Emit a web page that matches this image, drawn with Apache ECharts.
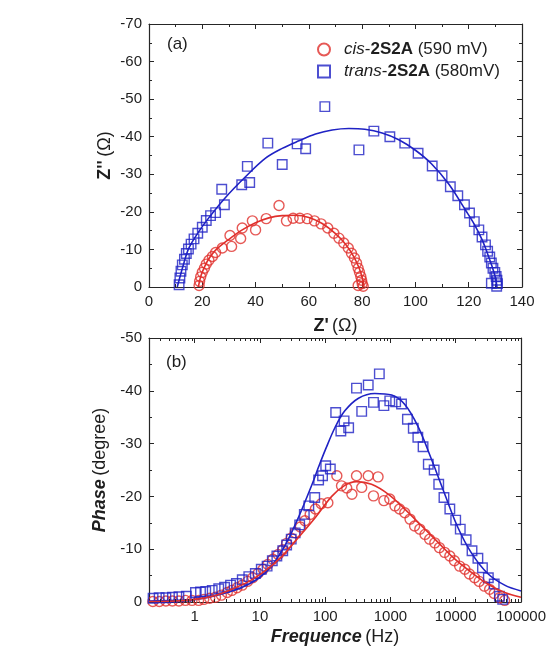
<!DOCTYPE html>
<html>
<head>
<meta charset="utf-8">
<script src="https://cdn.jsdelivr.net/npm/echarts@6/dist/echarts.min.js"></script>
<style>
  html, body { margin: 0; padding: 0; background: #fff; }
  #chart { width: 549px; height: 656px; }
</style>
</head>
<body>
<div id="chart"></div>
<script>
// ---- Nyquist data (Z' in ohm, Z'' in ohm) ----
const cisNyquist = [
  [18.8,-0.4],[19.0,-1.5],[19.4,-2.7],[20.0,-3.9],[20.8,-5.0],[21.5,-6.1],[22.5,-7.1],[23.8,-8.1],
  [25.0,-9.2],[27.5,-10.4],[30.4,-13.7],[31.0,-10.8],[34.4,-12.9],[35.0,-15.7],[38.8,-17.6],[40.0,-15.2],
  [44.0,-18.2],[48.8,-21.7],[51.6,-17.6],[54.1,-18.3],[56.6,-18.3],[59.4,-18.2],[62.1,-17.6],[64.6,-16.8],
  [67.1,-15.7],[69.4,-14.3],[71.3,-13.0],[73.1,-11.7],[74.8,-10.4],[76.0,-9.0],[77.1,-7.7],[77.9,-6.4],
  [78.5,-5.0],[79.0,-3.9],[79.5,-2.8],[79.8,-1.8],[80.0,-0.9],[78.5,-0.4],[80.4,-0.2]
];
const transNyquist = [
  [11.3,-0.6],[11.6,-2.4],[12.0,-4.2],[12.5,-5.9],[13.3,-7.4],[14.0,-8.9],[14.8,-10.1],[15.8,-11.4],
  [16.9,-12.8],[18.3,-14.3],[20.0,-15.9],[21.5,-17.7],[23.1,-19.0],[25.0,-19.8],[28.3,-21.9],[27.3,-26.0],
  [34.8,-27.2],[37.8,-27.8],[36.9,-32.1],[44.6,-38.3],[50.0,-32.6],[55.6,-38.1],[58.8,-36.8],[66.0,-48.0],
  [78.8,-36.5],[84.4,-41.5],[90.4,-40.0],[96.0,-38.3],[101.0,-35.6],[106.3,-32.2],[110.0,-29.6],[113.1,-26.7],
  [115.9,-24.3],[118.4,-21.9],[120.3,-19.7],[122.1,-17.4],[123.8,-15.2],[125.0,-13.3],[126.3,-11.2],[127.1,-9.5],
  [127.9,-8.0],[128.5,-6.4],[129.1,-5.0],[129.8,-3.9],[130.3,-2.8],[130.6,-1.8],[130.8,-0.9],[128.5,-1.0],[130.5,-0.2]
];
// equivalent-circuit fits
const cisNyquistFit = [
  [18.5,0],[19.5,-3.0],[20.5,-4.8],[22,-7.0],[25,-9.8],[30,-12.7],[35,-15.2],[40,-17.1],[45,-18.4],
  [50,-19.0],[55,-19.1],[60,-18.5],[65,-16.9],[70,-14.2],[74,-11.2],[77,-7.9],[79,-4.8],[80.3,-1.8],[80.7,0]
];
const transNyquistFit = [
  [10.6,0],[13.1,-6.4],[15,-10.4],[18.75,-14.8],[22,-18.0],[28.3,-23.5],[36.3,-29.4],[43.75,-34.3],
  [50,-36.9],[56.25,-38.9],[62.5,-40.7],[68.75,-41.8],[75,-42.2],[81,-42.0],[87.5,-41.0],[93.75,-39.2],
  [100,-36.4],[106,-32.8],[112.5,-27.4],[118.75,-20.5],[122,-16.8],[125,-12.6],[127,-9.0],[128.75,-5.5],
  [130,-2.6],[130.6,0]
];

// ---- Bode phase data (frequency in Hz, phase in degree) ----
const cisPhase = [
  [0.229,-0.1],[0.288,-0.1],[0.363,-0.2],[0.457,-0.2],[0.575,-0.2],[0.724,-0.3],[0.912,-0.3],[1.15,-0.3],
  [1.38,-0.5],[1.70,-0.7],[2.09,-0.9],[2.57,-1.3],[3.16,-1.8],[3.72,-2.2],[4.47,-2.7],[5.37,-3.2],
  [6.46,-3.9],[7.76,-4.6],[9.33,-5.4],[11.2,-6.2],[13.2,-7.1],[15.8,-8.1],[19.1,-9.0],[22.4,-9.9],
  [25.7,-11.1],[30.2,-12.1],[34.7,-13.1],[41.7,-14.2],[49.0,-15.4],[58.9,-16.6],[70.8,-17.6],[87.1,-18.6],
  [110,-18.8],[151,-23.9],[178,-22.0],[214,-21.6],[257,-20.4],[302,-23.9],[363,-21.7],[457,-23.9],
  [550,-20.1],[646,-23.7],[794,-19.2],[977,-19.5],[1175,-18.2],[1380,-17.6],[1660,-16.9],[1995,-15.7],
  [2344,-14.4],[2818,-13.8],[3388,-12.8],[3981,-11.9],[4786,-11.2],[5623,-10.3],[6761,-9.4],[8128,-8.7],
  [9550,-7.8],[11482,-6.8],[13804,-6.2],[16218,-5.3],[19498,-4.6],[22909,-3.9],[27542,-3.0],[33113,-2.4],
  [38905,-1.6],[46774,-0.8],[56234,-0.3]
];
const transPhase = [
  [0.231,-0.7],[0.286,-0.8],[0.363,-0.8],[0.457,-0.9],[0.575,-1.0],[0.746,-1.1],[1.03,-1.8],[1.23,-1.9],
  [1.48,-2.0],[1.86,-2.2],[2.34,-2.5],[2.88,-2.8],[3.55,-3.2],[4.37,-3.5],[5.37,-4.2],[6.76,-4.8],
  [8.51,-5.4],[10.5,-6.2],[12.9,-6.8],[15.5,-7.8],[18.2,-8.7],[22.4,-9.7],[25.7,-10.8],[30.2,-11.9],
  [34.7,-13.1],[40.7,-14.6],[47.9,-16.6],[56.2,-18.2],[69.2,-19.8],[79.4,-23.1],[91.2,-23.9],[102,-25.8],
  [120,-25.2],[145,-35.9],[174,-32.4],[195,-34.3],[229,-33.0],[302,-40.5],[363,-36.1],[457,-41.1],
  [550,-37.8],[676,-43.2],[794,-37.2],[977,-38.1],[1202,-37.9],[1479,-37.5],[1820,-34.6],[2239,-32.9],
  [2630,-31.2],[3162,-29.4],[3802,-26.1],[4677,-25.0],[5495,-22.3],[6607,-19.8],[8128,-17.6],[10000,-15.5],
  [11749,-13.8],[14454,-11.8],[17783,-9.7],[21878,-8.3],[25704,-6.5],[31623,-4.6],[38905,-3.4],[46774,-1.1],
  [52481,-0.5]
];
const cisPhaseFit = [
  [0.2,-0.1],[0.5,-0.2],[1,-0.5],[2,-1.2],[3.7,-2.4],[6.8,-3.9],[12,-5.9],[21.9,-8.7],[38.9,-12.2],
  [70.8,-16.0],[126,-20.0],[200,-22.1],[302,-22.8],[513,-22.3],[933,-20.4],[1660,-17.6],[3020,-14.4],
  [5370,-11.3],[9550,-8.2],[17378,-5.6],[30903,-3.4],[56234,-1.8],[100000,-0.9]
];
const transPhaseFit = [
  [0.2,-0.2],[0.5,-0.3],[1.05,-0.5],[1.66,-0.9],[2.95,-1.7],[5.37,-2.8],[9.55,-4.5],[15.5,-7.0],
  [24.5,-10.8],[38.9,-16.0],[63.1,-22.3],[79.4,-25.6],[102,-29.0],[141,-33.0],[200,-36.2],[324,-38.6],
  [575,-39.5],[1047,-39.2],[1660,-37.4],[2630,-33.3],[4266,-27.0],[6761,-20.5],[10715,-14.2],[17378,-9.3],
  [30903,-5.4],[56234,-3.2],[100000,-2.1]
];

// ---- axis tick values ----
const freqDecades = [0.1, 1, 10, 100, 1000, 10000];
const minorMultipliers = [2, 3, 4, 5, 6, 7, 8, 9];
const freqMin = 0.2, freqMax = 100000;
const logMinorTicks = [];
freqDecades.forEach(d => minorMultipliers.forEach(m => {
  const f = d * m;
  if (f > freqMin && f < freqMax) logMinorTicks.push([f, 0]);
}));

const seriesNames = ['cis-2S2A (590 mV)', 'trans-2S2A (580mV)'];

const FONT = '"Liberation Sans", Arial, Helvetica, sans-serif';
const INK = '#1e1e1e';
const FRAME = '#262626';
const RED = '#e0302c';
const BLUE = '#1f22c4';

function frameAxis(extra) {
  return Object.assign({
    axisLine: { show: true, onZero: false, lineStyle: { color: FRAME, width: 1.2 } },
    axisTick: { show: true, inside: true, length: 5, lineStyle: { color: FRAME } },
    minorTick: { show: true, splitNumber: 2, length: 3, lineStyle: { color: FRAME } },
    splitLine: { show: false },
    minorSplitLine: { show: false },
    axisLabel: { color: INK, fontSize: 15, fontFamily: FONT, margin: 7 }
  }, extra);
}
const hiddenLabel = { show: false };

const nameRich = {
  b: { fontWeight: 'bold', fontSize: 18, fontFamily: FONT, color: INK },
  bi: { fontWeight: 'bold', fontStyle: 'italic', fontSize: 18, fontFamily: FONT, color: INK },
  n: { fontSize: 18, fontFamily: FONT, color: INK }
};

const option = {
  animation: false,
  backgroundColor: '#fff',
  grid: [
    { left: 149, top: 24, width: 373, height: 263 },
    { left: 149, top: 338, width: 374, height: 264 }
  ],
  legend: {
    data: seriesNames,
    orient: 'vertical',
    left: 312,
    top: 36,
    itemWidth: 12,
    itemHeight: 12,
    itemGap: 5,
    selectedMode: false,
    formatter: name => name.replace(/^(\w+)-(2S2A)(.*)$/, '{i|$1}-{b|$2}$3'),
    textStyle: {
      fontSize: 17, fontFamily: FONT, color: INK, padding: [0, 0, 0, 9],
      rich: {
        i: { fontStyle: 'italic', fontSize: 17, fontFamily: FONT, color: INK },
        b: { fontWeight: 'bold', fontSize: 17, fontFamily: FONT, color: INK }
      }
    }
  },
  graphic: [
    { type: 'text', left: 167, top: 36, style: { text: '(a)', font: '17px ' + FONT, fill: INK } },
    { type: 'text', left: 166, top: 354, style: { text: '(b)', font: '17px ' + FONT, fill: INK } }
  ],
  xAxis: [
    frameAxis({
      gridIndex: 0, type: 'value', min: 0, max: 140, interval: 20, position: 'bottom',
      name: "{b|Z'} {n|(Ω)}", nameLocation: 'middle', nameGap: 30,
      nameTextStyle: { rich: nameRich }
    }),
    frameAxis({
      gridIndex: 0, type: 'value', min: 0, max: 140, interval: 20, position: 'top',
      axisLabel: hiddenLabel
    }),
    frameAxis({
      gridIndex: 1, type: 'log', logBase: 10, min: freqMin, max: freqMax, position: 'bottom',
      minorTick: { show: false },
      axisLabel: {
        color: INK, fontSize: 15, fontFamily: FONT, margin: 7, showMinLabel: false,
        formatter: v => (v >= 1 ? String(Math.round(v)) : '')
      },
      name: '{bi|Frequence} {n|(Hz)}', nameLocation: 'middle', nameGap: 26,
      nameTextStyle: { rich: nameRich }
    }),
    frameAxis({
      gridIndex: 1, type: 'log', logBase: 10, min: freqMin, max: freqMax, position: 'top',
      minorTick: { show: false }, axisLabel: hiddenLabel
    })
  ],
  yAxis: [
    frameAxis({
      gridIndex: 0, type: 'value', min: -70, max: 0, interval: 10, inverse: true, position: 'left',
      name: "{b|Z''} {n|(Ω)}", nameLocation: 'middle', nameGap: 35, nameRotate: 90,
      nameMoveOverlap: false,
      nameTextStyle: { rich: nameRich }
    }),
    frameAxis({
      gridIndex: 0, type: 'value', min: -70, max: 0, interval: 10, inverse: true, position: 'right',
      axisLabel: hiddenLabel
    }),
    frameAxis({
      gridIndex: 1, type: 'value', min: -50, max: 0, interval: 10, inverse: true, position: 'left',
      name: '{bi|Phase} {n|(degree)}', nameLocation: 'middle', nameGap: 37, nameRotate: 90,
      nameTextStyle: { rich: nameRich }
    }),
    frameAxis({
      gridIndex: 1, type: 'value', min: -50, max: 0, interval: 10, inverse: true, position: 'right',
      axisLabel: hiddenLabel
    })
  ],
  series: [
    // Nyquist panel
    { name: 'cis fit (a)', type: 'line', xAxisIndex: 0, yAxisIndex: 0, data: cisNyquistFit,
      symbol: 'none', smooth: 0.35, lineStyle: { color: RED, width: 1.6 }, z: 3 },
    { name: 'trans fit (a)', type: 'line', xAxisIndex: 0, yAxisIndex: 0, data: transNyquistFit,
      symbol: 'none', smooth: 0.35, lineStyle: { color: BLUE, width: 1.6 }, z: 3 },
    { name: seriesNames[0], type: 'scatter', xAxisIndex: 0, yAxisIndex: 0, data: cisNyquist,
      symbol: 'circle', symbolSize: 10,
      itemStyle: { color: 'rgba(0,0,0,0)', borderColor: RED, borderWidth: 1.4 }, z: 4 },
    { name: seriesNames[1], type: 'scatter', xAxisIndex: 0, yAxisIndex: 0, data: transNyquist,
      symbol: 'rect', symbolSize: 9.5,
      itemStyle: { color: 'rgba(0,0,0,0)', borderColor: BLUE, borderWidth: 1.4 }, z: 4 },
    // Bode phase panel
    { name: seriesNames[0], type: 'scatter', xAxisIndex: 2, yAxisIndex: 2, data: cisPhase,
      symbol: 'circle', symbolSize: 10,
      itemStyle: { color: 'rgba(0,0,0,0)', borderColor: RED, borderWidth: 1.4 }, z: 4 },
    { name: seriesNames[1], type: 'scatter', xAxisIndex: 2, yAxisIndex: 2, data: transPhase,
      symbol: 'rect', symbolSize: 9.5,
      itemStyle: { color: 'rgba(0,0,0,0)', borderColor: BLUE, borderWidth: 1.4 }, z: 4 },
    { name: 'trans fit (b)', type: 'line', xAxisIndex: 2, yAxisIndex: 2, data: transPhaseFit,
      symbol: 'none', smooth: 0.35, lineStyle: { color: BLUE, width: 1.6 }, z: 5 },
    { name: 'cis fit (b)', type: 'line', xAxisIndex: 2, yAxisIndex: 2, data: cisPhaseFit,
      symbol: 'none', smooth: 0.35, lineStyle: { color: RED, width: 1.6 }, z: 5 },
    // logarithmic minor ticks (2..9 per decade) on the bottom and top frame of the phase panel
    { name: 'log minor ticks', type: 'custom', xAxisIndex: 2, yAxisIndex: 2, data: logMinorTicks,
      silent: true, clip: false, z: 6,
      renderItem: (params, api) => {
        const b = api.coord([api.value(0), 0]);
        const t = api.coord([api.value(0), -50]);
        const x = Math.round(b[0]) + 0.5;
        return { type: 'group', children: [
          { type: 'line', shape: { x1: x, y1: b[1], x2: x, y2: b[1] - 3 }, style: { stroke: FRAME, lineWidth: 1 } },
          { type: 'line', shape: { x1: x, y1: t[1], x2: x, y2: t[1] + 3 }, style: { stroke: FRAME, lineWidth: 1 } }
        ] };
      }
    }
  ]
};

const chart = echarts.init(document.getElementById('chart'), null, { renderer: 'canvas' });
chart.setOption(option);
</script>
</body>
</html>
